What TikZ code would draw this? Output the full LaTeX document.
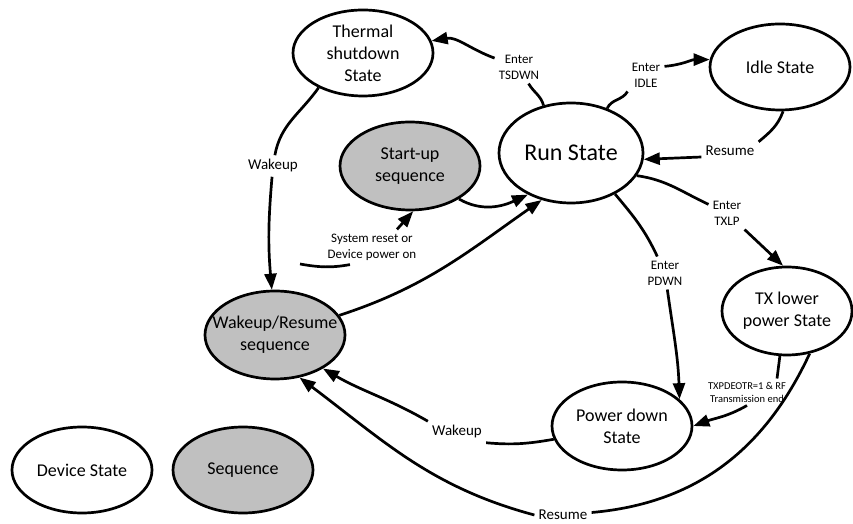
\documentclass[tikz,border=0pt]{standalone}
\usepackage{fontspec}
\setmainfont{Carlito}
\usetikzlibrary{arrows.meta,shapes.geometric}
\definecolor{seqgray}{RGB}{192,192,192}

\begin{document}
\begin{tikzpicture}[
  x=1pt, y=1pt,
  line width=2.7pt,
  stnode/.style={draw,ellipse,minimum width=140pt,minimum height=86pt,inner sep=0pt,align=center,font=\fontsize{18}{22}\selectfont},
  seqnode/.style={stnode,fill=seqgray},
  elbl/.style={align=center,inner sep=3pt,font=\fontsize{13}{16}\selectfont},
  wlbl/.style={inner sep=3pt,font=\fontsize{15}{18}\selectfont},
  tarrow/.style={-{Triangle[length=16pt,width=12pt]}}
]
  \useasboundingbox (0,0) rectangle (853,524);

  % device states
  \node[stnode] (thermal) at (363,471) {Thermal\\shutdown\\State};
  \node[stnode] (idle) at (780,457) {Idle State};
  \node[stnode,minimum width=144pt,minimum height=100pt,font=\fontsize{24}{28}\selectfont] (run) at (571,371) {Run State};
  \node[stnode,minimum width=130pt,minimum height=88pt] (txlow) at (787,213) {TX lower\\power State};
  \node[stnode,minimum height=88pt] (pdown) at (622,98) {Power down\\State};

  % sequences
  \node[seqnode,minimum height=88pt] (startup) at (410,358) {Start-up\\sequence};
  \node[seqnode,minimum height=88pt,inner xsep=-30pt] (wakeseq) at (275,189) {Wakeup/Resume\\sequence};

  % legend
  \node[stnode] (legstate) at (82,54) {Device State};
  \node[seqnode] (legseq) at (243,54) {Sequence};

  % transition labels
  \node[elbl] (tsdwn) at (519,457) {Enter\\TSDWN};
  \node[elbl] (enidle) at (646,449) {Enter\\IDLE};
  \node[elbl] (txlp) at (727,311) {Enter\\TXLP};
  \node[elbl] (pdwn) at (665,251) {Enter\\PDWN};
  \node[elbl] (sysreset) at (372,277) {System reset or\\Device power on};
  \node[align=center,inner sep=2pt,font=\fontsize{10.5}{13}\selectfont] (txpd) at (747,132) {TXPDEOTR=1 \& RF\\Transmission end};
  \node[wlbl] (resume1) at (730,373) {Resume};
  \node[wlbl] (resume2) at (563,9) {Resume};
  \node[wlbl] (wake1) at (273,358) {Wakeup};
  \node[wlbl] (wake2) at (457,92) {Wakeup};
  \coordinate (pwron) at (300,260);

  % run state edges
  \draw (run.120) to[out=105,in=-60] (tsdwn);
  \draw[tarrow] (tsdwn) to[out=160,in=10] (thermal);
  \draw (run.51) to[out=65,in=-120] (enidle.south west);
  \draw[tarrow] (enidle.25) to[out=5,in=180] (idle.174);
  \draw (run.-19) to[out=-8,in=155] (txlp);
  \draw[tarrow] (txlp) -- (txlow.95);
  \draw (run.-43) to[out=-50,in=115] (pdwn);
  \draw[tarrow] (pdwn) to[out=-82,in=92] (pdown.25);

  % idle state edges
  \draw (idle.-86) to[out=-110,in=40] (resume1.north east);
  \draw[tarrow] ([yshift=-6pt]resume1.west) -- (run.-5);

  % thermal and sequence edges
  \draw (thermal.218) to[out=235,in=80] (wake1);
  \draw[tarrow] (wake1) to[out=-95,in=95] (wakeseq.94);
  \draw[tarrow] (startup.-34) to[out=-30,in=205] (run.224);
  \draw[tarrow] (wakeseq.17) to[out=18,in=215] (run.238);
  \draw (pwron) to[out=-10,in=190] ([xshift=-22pt]sysreset.south);
  \draw[tarrow] ([xshift=25pt]sysreset.north) -- (startup.-86);

  % tx lower power and power down edges
  \draw (txlow.-99) -- ([xshift=30pt]txpd.north);
  \draw[tarrow] (txpd.south) to[out=-150,in=20] (pdown.0);
  \draw (txlow.-62) to[out=-115,in=5] (resume2);
  \draw[tarrow] (resume2.west) to[out=165,in=-37] (wakeseq.-60);
  \draw (pdown.191) to[out=190,in=-5] (wake2.south east);
  \draw[tarrow] (wake2.north west) to[out=150,in=-30] (wakeseq.-35);

\end{tikzpicture}
\end{document}
